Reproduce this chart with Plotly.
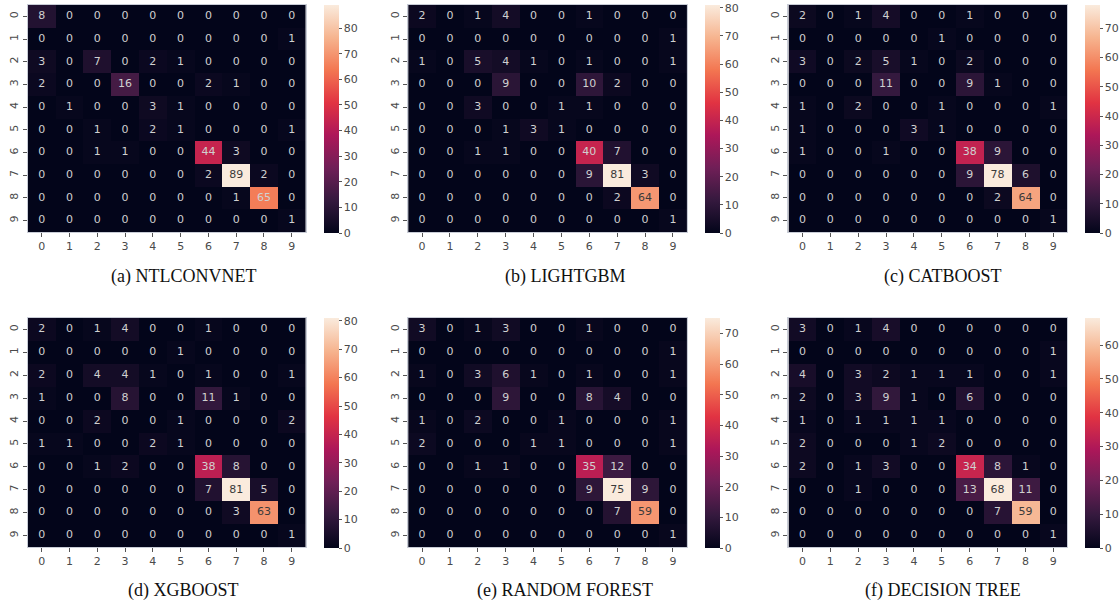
import plotly.graph_objects as go

classes = [str(i) for i in range(10)]

ntlconvnet = [
    [8, 0, 0, 0, 0, 0, 0, 0, 0, 0],
    [0, 0, 0, 0, 0, 0, 0, 0, 0, 1],
    [3, 0, 7, 0, 2, 1, 0, 0, 0, 0],
    [2, 0, 0, 16, 0, 0, 2, 1, 0, 0],
    [0, 1, 0, 0, 3, 1, 0, 0, 0, 0],
    [0, 0, 1, 0, 2, 1, 0, 0, 0, 1],
    [0, 0, 1, 1, 0, 0, 44, 3, 0, 0],
    [0, 0, 0, 0, 0, 0, 2, 89, 2, 0],
    [0, 0, 0, 0, 0, 0, 0, 1, 65, 0],
    [0, 0, 0, 0, 0, 0, 0, 0, 0, 1],
]
lightgbm = [
    [2, 0, 1, 4, 0, 0, 1, 0, 0, 0],
    [0, 0, 0, 0, 0, 0, 0, 0, 0, 1],
    [1, 0, 5, 4, 1, 0, 1, 0, 0, 1],
    [0, 0, 0, 9, 0, 0, 10, 2, 0, 0],
    [0, 0, 3, 0, 0, 1, 1, 0, 0, 0],
    [0, 0, 0, 1, 3, 1, 0, 0, 0, 0],
    [0, 0, 1, 1, 0, 0, 40, 7, 0, 0],
    [0, 0, 0, 0, 0, 0, 9, 81, 3, 0],
    [0, 0, 0, 0, 0, 0, 0, 2, 64, 0],
    [0, 0, 0, 0, 0, 0, 0, 0, 0, 1],
]
catboost = [
    [2, 0, 1, 4, 0, 0, 1, 0, 0, 0],
    [0, 0, 0, 0, 0, 1, 0, 0, 0, 0],
    [3, 0, 2, 5, 1, 0, 2, 0, 0, 0],
    [0, 0, 0, 11, 0, 0, 9, 1, 0, 0],
    [1, 0, 2, 0, 0, 1, 0, 0, 0, 1],
    [1, 0, 0, 0, 3, 1, 0, 0, 0, 0],
    [1, 0, 0, 1, 0, 0, 38, 9, 0, 0],
    [0, 0, 0, 0, 0, 0, 9, 78, 6, 0],
    [0, 0, 0, 0, 0, 0, 0, 2, 64, 0],
    [0, 0, 0, 0, 0, 0, 0, 0, 0, 1],
]
xgboost = [
    [2, 0, 1, 4, 0, 0, 1, 0, 0, 0],
    [0, 0, 0, 0, 0, 1, 0, 0, 0, 0],
    [2, 0, 4, 4, 1, 0, 1, 0, 0, 1],
    [1, 0, 0, 8, 0, 0, 11, 1, 0, 0],
    [0, 0, 2, 0, 0, 1, 0, 0, 0, 2],
    [1, 1, 0, 0, 2, 1, 0, 0, 0, 0],
    [0, 0, 1, 2, 0, 0, 38, 8, 0, 0],
    [0, 0, 0, 0, 0, 0, 7, 81, 5, 0],
    [0, 0, 0, 0, 0, 0, 0, 3, 63, 0],
    [0, 0, 0, 0, 0, 0, 0, 0, 0, 1],
]
random_forest = [
    [3, 0, 1, 3, 0, 0, 1, 0, 0, 0],
    [0, 0, 0, 0, 0, 0, 0, 0, 0, 1],
    [1, 0, 3, 6, 1, 0, 1, 0, 0, 1],
    [0, 0, 0, 9, 0, 0, 8, 4, 0, 0],
    [1, 0, 2, 0, 0, 1, 0, 0, 0, 1],
    [2, 0, 0, 0, 1, 1, 0, 0, 0, 1],
    [0, 0, 1, 1, 0, 0, 35, 12, 0, 0],
    [0, 0, 0, 0, 0, 0, 9, 75, 9, 0],
    [0, 0, 0, 0, 0, 0, 0, 7, 59, 0],
    [0, 0, 0, 0, 0, 0, 0, 0, 0, 1],
]
decision_tree = [
    [3, 0, 1, 4, 0, 0, 0, 0, 0, 0],
    [0, 0, 0, 0, 0, 0, 0, 0, 0, 1],
    [4, 0, 3, 2, 1, 1, 1, 0, 0, 1],
    [2, 0, 3, 9, 1, 0, 6, 0, 0, 0],
    [1, 0, 1, 1, 1, 1, 0, 0, 0, 0],
    [2, 0, 0, 0, 1, 2, 0, 0, 0, 0],
    [2, 0, 1, 3, 0, 0, 34, 8, 1, 0],
    [0, 0, 1, 0, 0, 0, 13, 68, 11, 0],
    [0, 0, 0, 0, 0, 0, 0, 7, 59, 0],
    [0, 0, 0, 0, 0, 0, 0, 0, 0, 1],
]

titles = ["(a) NTLCONVNET", "(b) LIGHTGBM", "(c) CATBOOST",
          "(d) XGBOOST", "(e) RANDOM FOREST", "(f) DECISION TREE"]
matrices = [ntlconvnet, lightgbm, catboost, xgboost, random_forest, decision_tree]

# seaborn "rocket"-like colour scale
rocket_stops = [0.0, 0.143, 0.286, 0.429, 0.571, 0.714, 0.857, 1.0]
rocket_cols = ["#03051a", "#35193e", "#701f57", "#ad1759", "#e13342",
               "#f37651", "#f6b48f", "#faebdd"]
rocket = [[s, c] for s, c in zip(rocket_stops, rocket_cols)]


def hex2rgb(h):
    h = h.lstrip("#")
    return [int(h[i:i + 2], 16) / 255 for i in (0, 2, 4)]


def rocket_at(t):
    for i in range(len(rocket_stops) - 1):
        a, b = rocket_stops[i], rocket_stops[i + 1]
        if t <= b:
            f = (t - a) / (b - a)
            ca, cb = hex2rgb(rocket_cols[i]), hex2rgb(rocket_cols[i + 1])
            return [ca[k] + f * (cb[k] - ca[k]) for k in range(3)]
    return hex2rgb(rocket_cols[-1])


def luminance(rgb):
    lin = [c / 12.92 if c <= 0.03928 else ((c + 0.055) / 1.055) ** 2.4 for c in rgb]
    return 0.2126 * lin[0] + 0.7152 * lin[1] + 0.0722 * lin[2]


W, H = 1119, 605
# pixel boxes of heatmap cells area: (x0, x1, y0, y1)
boxes = [
    (28, 307, 5, 232), (410, 690, 5, 232), (792, 1072, 5, 232),
    (28, 307, 318, 547), (410, 690, 318, 547), (792, 1072, 318, 547),
]
title_pos = [(184, 277), (568, 277), (947, 277), (184, 590), (568, 590), (947, 590)]

fig = go.Figure()
layout = dict(
    width=W, height=H, margin=dict(l=0, r=0, t=0, b=0),
    paper_bgcolor="white", plot_bgcolor="white", showlegend=False,
    annotations=[],
)
tickfont = dict(family="DejaVu Sans", size=11, color="#4a4a4a")

for i, (mat, title, box) in enumerate(zip(matrices, titles, boxes)):
    n = "" if i == 0 else str(i + 1)
    x0, x1, y0, y1 = box
    zmax = max(max(r) for r in mat)
    fig.add_trace(go.Heatmap(
        z=mat, x=list(range(10)), y=list(range(10)),
        xaxis="x" + n, yaxis="y" + n,
        colorscale=rocket, zmin=0, zmax=zmax, xgap=0, ygap=0,
        hoverinfo="skip",
        colorbar=dict(
            x=(x1 + 18) / W, xanchor="left", xref="paper",
            y=1 - y0 / H, yanchor="top", yref="paper",
            len=(y1 - y0) + 1, lenmode="pixels", thickness=15,
            outlinewidth=0, dtick=10, ticks="outside", ticklen=3,
            tickcolor="#555", tickfont=tickfont, ypad=0, xpad=0,
        ),
    ))
    xs, ys, txt, cols = [], [], [], []
    for r in range(10):
        for c in range(10):
            v = mat[r][c]
            xs.append(c)
            ys.append(r)
            txt.append(str(v))
            lum = luminance(rocket_at(v / zmax))
            cols.append("#3a3a3a" if lum > 0.408 else "#d0d0d0")
    fig.add_trace(go.Scatter(
        x=xs, y=ys, text=txt, mode="text", xaxis="x" + n, yaxis="y" + n,
        textfont=dict(family="DejaVu Sans", size=11, color=cols),
        hoverinfo="skip",
    ))
    layout["xaxis" + n] = dict(
        domain=[x0 / W, x1 / W], anchor="y" + n, range=[-0.5, 9.5],
        tickvals=list(range(10)), ticktext=classes, ticks="outside",
        ticklen=4, tickcolor="#555", tickfont=tickfont, showgrid=False,
        zeroline=False, showline=True, linecolor="#c8ccd6", mirror=True,
        linewidth=1, fixedrange=True,
    )
    layout["yaxis" + n] = dict(
        domain=[1 - y1 / H, 1 - y0 / H], anchor="x" + n, range=[9.5, -0.5],
        tickvals=list(range(10)), ticktext=classes, ticks="outside",
        ticklen=4, tickcolor="#555", tickfont=tickfont, tickangle=-90,
        showgrid=False, zeroline=False, showline=True, linecolor="#c8ccd6",
        mirror=True, linewidth=1, fixedrange=True,
    )
    tx, ty = title_pos[i]
    layout["annotations"].append(dict(
        text=title, x=tx / W, y=1 - ty / H, xref="paper", yref="paper",
        xanchor="center", yanchor="middle", showarrow=False,
        font=dict(family="Liberation Serif", size=18, color="#111"),
    ))

fig.update_layout(**layout)
fig.write_html(
    "out.html",
    config={"displayModeBar": False},
    post_script="document.body.style.margin='0';document.body.style.overflow='hidden';",
)
